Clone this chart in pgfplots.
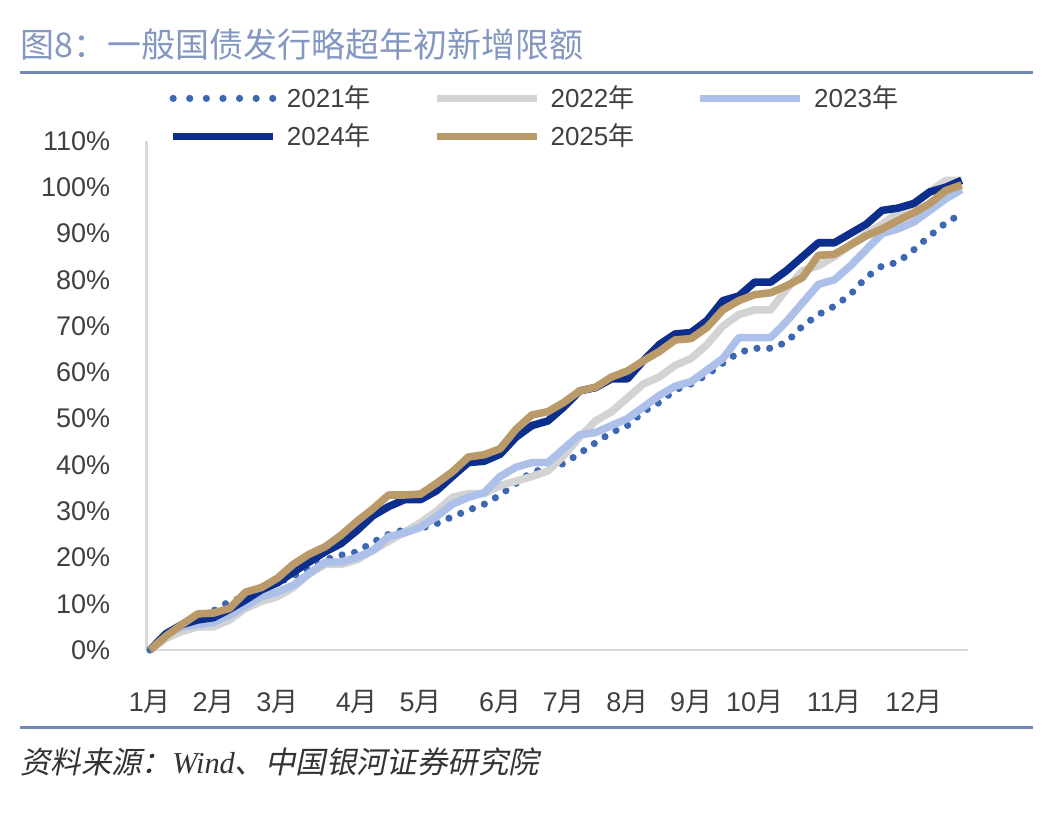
\documentclass[border=0pt]{standalone}
\usepackage{fontspec}
\setmainfont{Liberation Sans}
\newfontfamily\cjk{Noto Sans CJK SC}
\newfontfamily\cjkit[FakeSlant=0.2]{Noto Sans CJK SC}
\newfontfamily\serif{Liberation Serif}
\usepackage{pgfplots}
\usepackage{pgfplotstable}
\pgfplotsset{compat=1.18}

\definecolor{c21}{HTML}{3E67B1}
\definecolor{c22}{HTML}{D3D3D3}
\definecolor{c23}{HTML}{ADC0EA}
\definecolor{c24}{HTML}{0C2E8C}
\definecolor{c25}{HTML}{BB9A69}
\definecolor{axisgray}{HTML}{D9D9D9}
\definecolor{txt}{HTML}{404040}
\definecolor{titleblue}{HTML}{8497C0}
\definecolor{rulecol}{HTML}{7389B6}

\newcommand{\yue}{{\cjk 月}}
\newcommand{\nian}{{\cjk 年}}

% weekly cumulative issuance, % of annual quota
\pgfplotstableread{
w  y21   y22   y23   y24   y25
0  0     0     0     0     0
1  2.5   2.5   3.5   3.5   3
2  5     4     5     5.5   5.5
3  6.5   5     5.5   6.5   7.8
4  8.5   5     6     7     8
5  10.5  6.5   7.5   8.8   9
6  11.5  9     9.5   10.8  12.5
7  13.5  10.5  11.5  13    13.5
8  14.5  11.5  12.5  14.5  15.5
9  16    13.5  14    16.8  18.5
10 17.5  16.5  16.5  19    20.7
11 19.5  18.5  19    21.2  22.3
12 20.5  18.5  19    23    24.8
13 21.2  19.5  20    25.8  27.8
14 23.3  21.5  21.5  29    30.5
15 25    23.5  24.5  31    33.5
16 26    25.5  25.3  32.5  33.5
17 26.3  27.5  26.5  32.5  33.7
18 27.3  30    28.8  34.4  36
19 28.8  33    31.5  37.5  38.5
20 30.2  33.8  33    40.5  41.7
21 31.5  33.8  34    40.8  42.2
22 33.5  35.5  37.5  42.3  43.5
23 36    36.5  39.5  46    47.7
24 38.5  37.5  40.5  48.5  50.8
25 39.2  38.7  40.5  49.5  51.5
26 40.3  42    43.5  52.5  53.5
27 42.5  46    46.5  56    56
28 44.8  49.5  47    56.7  56.8
29 47    51.5  48.5  58.6  59
30 48.5  54.5  50    58.6  60.3
31 51.5  57.5  52.5  62.5  62.5
32 53.5  59    55    66    64.5
33 56.2  61.5  57    68.3  67
34 57.5  63    58    68.6  67.3
35 59.5  66    60.5  71.2  69.7
36 62    70    63    75.5  73.5
37 64.3  72.5  67.5  76.5  75.5
38 65.2  73.5  67.5  79.5  76.8
39 65.2  73.5  67.5  79.5  77.2
40 66.5  78    71    82    78.7
41 70    82    75    85    80.5
42 72.5  83    79    88    85.3
43 74.3  85    80    88    85.5
44 76.8  87.5  83    90    87.5
45 80.5  90    86.5  92    89.5
46 83    92    90    95    91
47 83.8  94.5  91    95.5  92.8
48 86.5  96.5  92.5  96.5  94.5
49 89.5  99    95    99    96.5
50 92.3  101.5 97.5  100   99.3
51 94.3  101.5 99.5  101.5 100.5
}\data

\begin{document}
\begin{tikzpicture}
\path[use as bounding box] (0,0) rectangle (524.5bp,407bp);
\draw[rulecol, line width=1.5bp] (10bp,370.5bp) -- (516.5bp,370.5bp);
\draw[rulecol, line width=1.5bp] (10bp,43bp) -- (516.5bp,43bp);
\node[anchor=west, inner sep=0pt, text=titleblue, font=\cjk\fontsize{17bp}{20bp}\selectfont]
  at (10bp,384.5bp) {图8：一般国债发行略超年初新增限额};
\node[anchor=west, inner sep=0pt, text=black!80, font=\fontsize{15.2bp}{18bp}\selectfont]
  at (10bp,26bp) {{\cjkit 资料来源：}{\serif\itshape Wind}{\cjkit 、中国银河证券研究院}};

\begin{axis}[
  at={(73.4bp,82bp)}, anchor=south west,
  scale only axis, width=410.6bp, height=254.5bp,
  xmin=-0.2, xmax=51.4, ymin=0, ymax=110,
  axis x line=bottom, axis y line=left,
  axis line style={-, draw=axisgray, line width=1.3bp},
  tick style={draw=none},
  xtick={0,4,8,13,17,22,26,30,34,38,43,48},
  xticklabels={1\yue,2\yue,3\yue,4\yue,5\yue,6\yue,7\yue,8\yue,9\yue,10\yue,11\yue,12\yue},
  ytick={0,10,...,110},
  yticklabels={0\%,10\%,20\%,30\%,40\%,50\%,60\%,70\%,80\%,90\%,100\%,110\%},
  tick label style={font=\fontsize{13.5bp}{16bp}\selectfont, text=txt, inner sep=0pt},
  xticklabel style={anchor=center, yshift=-24bp},
  yticklabel style={anchor=east, xshift=-16bp},
  clip=false,
  legend columns=3,
  legend cell align=left,
  legend style={at={(0.027,1.11)}, anchor=north west, draw=none, fill=none,
    inner sep=0pt, row sep=6bp, text=txt, font=\fontsize{13bp}{15bp}\selectfont,
    nodes={inner sep=0pt, text height=11bp, text depth=2bp},
    /tikz/every odd column/.append style={column sep=5bp}},
  legend image code/.code={\draw[#1] (0bp,0bp) -- (50bp,0bp);},
  every axis plot/.append style={line join=round},
]
\addplot[c21, line width=3.6bp, line cap=round, dash pattern=on 0bp off 6.35bp,
  legend image post style={dash pattern=on 0bp off 8.3bp}] table[x=w,y=y21] {\data};
\addlegendentry{\makebox[73bp][l]{2021\nian}}
\addplot[c22, line width=3.8bp] table[x=w,y=y22] {\data};
\addlegendentry{\makebox[73bp][l]{2022\nian}}
\addplot[c23, line width=3.8bp] table[x=w,y=y23] {\data};
\addlegendentry{\makebox[73bp][l]{2023\nian}}
\addplot[c24, line width=3.8bp] table[x=w,y=y24] {\data};
\addlegendentry{\makebox[73bp][l]{2024\nian}}
\addplot[c25, line width=3.8bp] table[x=w,y=y25] {\data};
\addlegendentry{\makebox[73bp][l]{2025\nian}}
\end{axis}
\end{tikzpicture}
\end{document}
